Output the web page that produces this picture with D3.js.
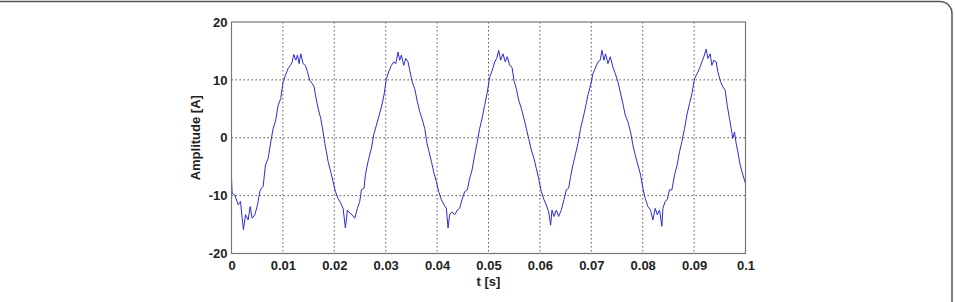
<!DOCTYPE html>
<html><head><meta charset="utf-8">
<script src="https://cdn.jsdelivr.net/npm/d3@7"></script>
<style>body{margin:0;background:#fff}svg{display:block}</style>
</head><body>
<script>
const timeS = [0,0.00013,0.00065,0.0013,0.00175,0.00207,0.00233,0.00272,0.00324,0.00363,0.00402,0.00454,0.00506,0.00551,0.00583,0.00616,0.00661,0.00713,0.00765,0.0081,0.00855,0.00907,0.00959,0.01005,0.0105,0.01102,0.01147,0.0118,0.01212,0.01251,0.01283,0.01316,0.01348,0.01393,0.01439,0.01478,0.01523,0.01568,0.01607,0.01633,0.01685,0.01737,0.01782,0.01815,0.01847,0.01879,0.01931,0.01977,0.02022,0.02074,0.02126,0.02171,0.02216,0.02255,0.02301,0.02346,0.02398,0.0245,0.02495,0.02528,0.02579,0.02605,0.02657,0.02722,0.02767,0.02819,0.02865,0.02916,0.02968,0.03014,0.03059,0.03111,0.03156,0.03195,0.0324,0.03273,0.03305,0.03351,0.0339,0.03435,0.03467,0.03513,0.03564,0.03616,0.03662,0.03707,0.03759,0.03804,0.03843,0.03889,0.03934,0.03986,0.04031,0.04083,0.04135,0.0418,0.04213,0.04245,0.0429,0.04342,0.04394,0.04439,0.04485,0.04537,0.04588,0.04634,0.04679,0.04731,0.04776,0.04828,0.04874,0.04925,0.04977,0.05023,0.05075,0.0512,0.05159,0.05198,0.05237,0.05282,0.05327,0.05366,0.05412,0.05457,0.05496,0.05541,0.05587,0.05638,0.0569,0.05736,0.05781,0.05833,0.05885,0.0593,0.05975,0.06027,0.06079,0.06124,0.0617,0.06209,0.06235,0.06274,0.06319,0.06364,0.06416,0.06468,0.06513,0.06559,0.06598,0.06643,0.06688,0.0674,0.06792,0.06837,0.06883,0.06935,0.06986,0.07032,0.07077,0.07129,0.07174,0.07207,0.07246,0.07278,0.07323,0.07369,0.07421,0.07466,0.07518,0.07563,0.07615,0.0766,0.07712,0.07764,0.0781,0.07855,0.07907,0.07958,0.08004,0.08049,0.08101,0.08153,0.08198,0.08244,0.08283,0.08328,0.08373,0.08393,0.08438,0.08477,0.08522,0.08568,0.0862,0.08671,0.08717,0.08762,0.08814,0.08866,0.08911,0.08957,0.09008,0.0906,0.09106,0.09151,0.0919,0.09235,0.09268,0.09313,0.09345,0.09384,0.0943,0.09462,0.09514,0.09559,0.09605,0.09644,0.09689,0.09721,0.09754,0.09786,0.09819,0.09851,0.09896,0.09948,0.1];
const amplitudeA = [-7.0,-9.6,-9.9,-11.6,-11.0,-13.9,-15.9,-13.3,-14.2,-11.9,-13.9,-13.3,-11.6,-9.3,-8.7,-8.4,-4.7,-3.6,-0.7,1.6,2.8,5.6,6.8,9.7,10.8,12.0,12.5,13.1,14.4,13.4,14.3,12.8,14.5,12.8,12.5,11.4,9.9,9.4,8.8,7.4,5.1,3.3,1.0,-1.0,-2.4,-4.1,-5.9,-7.6,-9.3,-10.5,-11.3,-12.2,-15.6,-12.5,-13.0,-13.3,-13.9,-12.2,-11.0,-9.0,-8.7,-6.4,-4.1,-1.8,0.5,2.2,3.6,5.3,7.4,10.2,11.4,12.5,13.1,12.8,14.8,13.4,14.3,12.5,13.7,13.1,11.7,9.7,8.5,6.2,4.5,3.3,1.6,-1.0,-2.4,-4.1,-5.9,-7.6,-9.3,-10.7,-11.6,-12.2,-15.6,-13.3,-12.8,-13.3,-12.5,-12.2,-10.7,-9.3,-9.0,-7.0,-5.6,-3.0,-1.0,1.6,3.3,5.6,7.9,10.5,11.7,13.1,13.7,15.1,13.4,14.5,13.1,14.0,12.5,12.2,9.9,8.5,6.5,5.1,3.3,1.6,-0.1,-2.1,-3.6,-5.3,-7.0,-9.3,-10.7,-11.6,-12.8,-15.1,-12.5,-13.6,-12.5,-13.6,-12.5,-10.7,-9.0,-8.7,-6.7,-4.7,-3.0,-1.0,1.6,3.3,5.1,7.4,9.1,11.1,12.0,13.1,13.4,15.1,13.4,14.5,12.8,14.0,12.2,11.1,9.7,7.9,5.9,3.9,2.8,1.0,-1.3,-3.0,-4.7,-6.4,-8.7,-10.5,-11.9,-12.5,-14.2,-12.2,-13.3,-12.5,-15.3,-12.2,-11.0,-10.7,-9.0,-9.0,-6.4,-4.7,-2.4,-0.7,1.6,4.2,5.9,7.6,10.2,11.1,12.0,13.1,14.0,15.3,13.7,14.5,12.5,13.4,13.1,11.4,9.7,8.8,8.2,5.6,3.3,1.6,-0.1,1.0,-1.0,-2.4,-4.7,-6.4,-7.9];
const xTicks = [0,0.01,0.02,0.03,0.04,0.05,0.06,0.07,0.08,0.09,0.1];
const xTickLabels = ["0","0.01","0.02","0.03","0.04","0.05","0.06","0.07","0.08","0.09","0.1"];
const yTicks = [-20,-10,0,10,20];
const yTickLabels = ["-20","-10","0","10","20"];

const W = 955, H = 302;
const svg = d3.select("body").append("svg").attr("width", W).attr("height", H);
svg.append("rect").attr("x", -20).attr("y", 1.5).attr("width", 972).attr("height", 400)
  .attr("rx", 12).attr("fill", "none").attr("stroke", "#555").attr("stroke-width", 1.5);

const L = 231.5, R = 745.5, T = 22, B = 253.5;
const x = d3.scaleLinear().domain([0, 0.1]).range([L, R]);
const y = d3.scaleLinear().domain([-20, 20]).range([B, T]);
const font = "'Liberation Sans', Arial, sans-serif";

const g = svg.append("g");
// grid
g.selectAll(".gx").data(xTicks.slice(1, -1)).enter().append("line")
  .attr("x1", d => x(d)).attr("x2", d => x(d)).attr("y1", T).attr("y2", B)
  .attr("stroke", "#555").attr("stroke-width", 1).attr("stroke-dasharray", "1.5,2.5");
g.selectAll(".gy").data(yTicks.slice(1, -1)).enter().append("line")
  .attr("x1", L).attr("x2", R).attr("y1", d => y(d)).attr("y2", d => y(d))
  .attr("stroke", "#555").attr("stroke-width", 1).attr("stroke-dasharray", "1.5,2.5");

// data line
const line = d3.line().x((d, i) => x(timeS[i])).y(d => y(d));
g.append("path").datum(amplitudeA).attr("d", line).attr("fill", "none")
  .attr("stroke", "#2c2cd8").attr("stroke-width", 1).attr("stroke-linejoin", "round");

// box
g.append("rect").attr("x", L).attr("y", T).attr("width", R - L).attr("height", B - T)
  .attr("fill", "none").attr("stroke", "#777").attr("stroke-width", 1.2);

// axes
const xAxis = d3.axisBottom(x).tickValues(xTicks).tickFormat((d, i) => xTickLabels[i]).tickSize(0).tickPadding(7);
const gx = svg.append("g").attr("transform", `translate(0,${B})`).call(xAxis);
const yAxis = d3.axisLeft(y).tickValues(yTicks).tickFormat((d, i) => yTickLabels[i]).tickSize(0).tickPadding(4);
const gy = svg.append("g").attr("transform", `translate(${L},0)`).call(yAxis);
[gx, gy].forEach(a => {
  a.select(".domain").remove();
  a.selectAll("text").attr("font-family", font).attr("font-size", 13).attr("font-weight", "bold").attr("fill", "#222");
});

svg.append("text").attr("x", (L + R) / 2).attr("y", 286).attr("text-anchor", "middle")
  .attr("font-family", font).attr("font-size", 13).attr("font-weight", "bold").attr("fill", "#222").text("t [s]");
svg.append("text").attr("transform", `translate(200,${(T + B) / 2}) rotate(-90)`).attr("text-anchor", "middle")
  .attr("font-family", font).attr("font-size", 13).attr("font-weight", "bold").attr("fill", "#222").text("Amplitude [A]");
</script>
</body></html>
